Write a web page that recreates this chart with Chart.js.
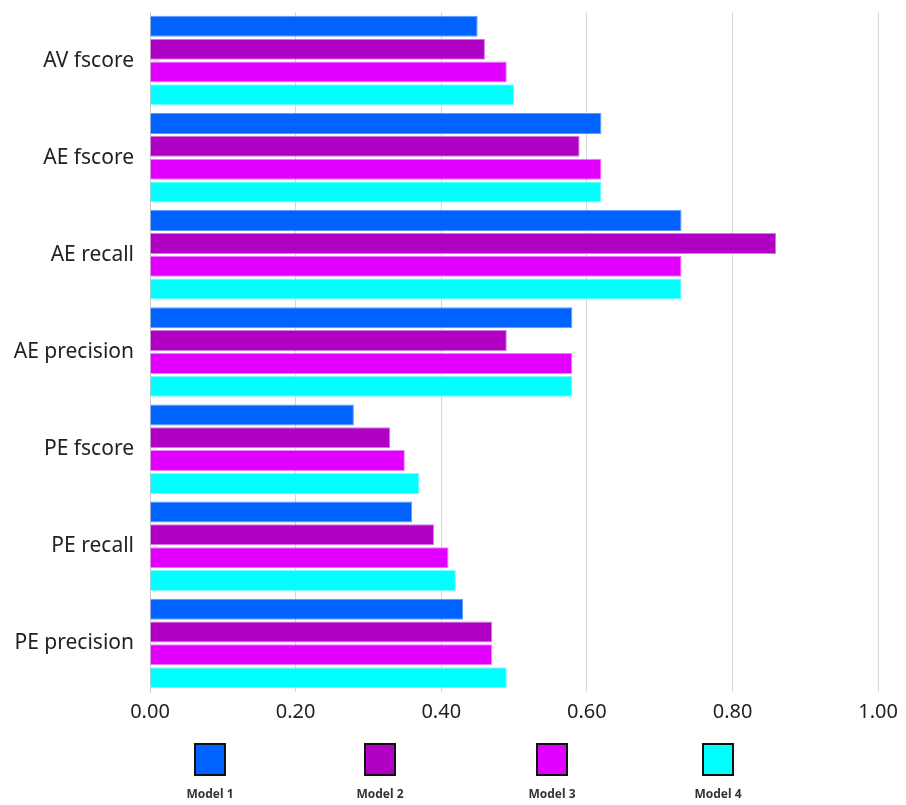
<!DOCTYPE html>
<html>
<head>
<meta charset="utf-8">
<script src="https://cdn.jsdelivr.net/npm/chart.js@4/dist/chart.umd.min.js"></script>
<style>
  html, body { margin: 0; padding: 0; background: #fff; }
  #wrap { width: 906px; height: 805px; position: relative; }
</style>
</head>
<body>
<div id="wrap"><canvas id="scores"></canvas></div>
<script>
const categories = ['AV fscore', 'AE fscore', 'AE recall', 'AE precision', 'PE fscore', 'PE recall', 'PE precision'];
const model1 = [0.45, 0.62, 0.73, 0.58, 0.28, 0.36, 0.43];
const model2 = [0.46, 0.59, 0.86, 0.49, 0.33, 0.39, 0.47];
const model3 = [0.49, 0.62, 0.73, 0.58, 0.35, 0.41, 0.47];
const model4 = [0.50, 0.62, 0.73, 0.58, 0.37, 0.42, 0.49];
const seriesNames = ['Model 1', 'Model 2', 'Model 3', 'Model 4'];
const xTicks = [0, 0.2, 0.4, 0.6, 0.8, 1.0];

const fills = ['#0062ff', '#af00c3', '#e100ff', '#00ffff'];
const edges = ['#5f9bff', '#d27ce0', '#ef80ff', '#7ffcff'];

// legend drawn under the x axis: box on top, name below
const boxLegend = {
  id: 'boxLegend',
  afterDraw(chart) {
    const ctx = chart.ctx;
    const centers = [210, 380, 552, 718];
    ctx.save();
    chart.data.datasets.forEach((ds, i) => {
      const cx = centers[i];
      ctx.fillStyle = ds.backgroundColor;
      ctx.fillRect(cx - 15, 744, 30, 31);
      ctx.lineWidth = 2;
      ctx.strokeStyle = '#111';
      ctx.strokeRect(cx - 15, 744, 30, 31);
      ctx.fillStyle = '#333';
      ctx.font = 'bold 12px "Noto Sans"';
      ctx.textAlign = 'center';
      ctx.textBaseline = 'middle';
      ctx.fillText(ds.label, cx, 795);
    });
    ctx.restore();
  }
};

new Chart(document.getElementById('scores'), {
  type: 'bar',
  data: {
    labels: categories,
    datasets: [model1, model2, model3, model4].map((vals, i) => ({
      label: seriesNames[i],
      data: vals,
      backgroundColor: fills[i],
      borderColor: edges[i],
      borderWidth: 1,
      categoryPercentage: 0.94,
      barPercentage: 0.92,
    }))
  },
  options: {
    indexAxis: 'y',
    responsive: true,
    maintainAspectRatio: false,
    animation: false,
    layout: { padding: { top: 12, right: 19, bottom: 73, left: 0 } },
    plugins: {
      legend: { display: false },
      tooltip: { enabled: false }
    },
    scales: {
      x: {
        min: 0,
        max: 1,
        afterBuildTicks(axis) { axis.ticks = xTicks.map(v => ({ value: v })); },
        ticks: {
          font: { family: 'Noto Sans', size: 20 },
          color: '#222',
          padding: 8,
          callback: v => v.toFixed(2)
        },
        grid: { color: '#d6d6d6', lineWidth: 1, drawTicks: false },
        border: { display: false }
      },
      y: {
        afterFit(axis) {
          axis.width = 150;
          axis.paddingTop = 0;
          axis.paddingBottom = 0;
        },
        ticks: {
          font: { family: 'Noto Sans', size: 21 },
          color: '#222',
          padding: 8
        },
        grid: { display: false },
        border: { display: true, color: '#c8c8c8', width: 1 }
      }
    }
  },
  plugins: [boxLegend]
});
</script>
</body>
</html>
